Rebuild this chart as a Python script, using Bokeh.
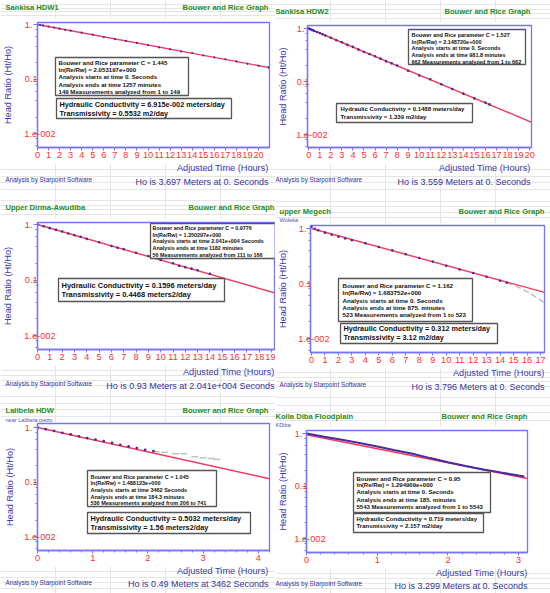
import math
from bokeh.plotting import figure
from bokeh.models import Range1d, FixedTicker, Label, BoxAnnotation
from bokeh.layouts import column, row
from bokeh.embed import file_html
from bokeh.resources import INLINE

# ------------------------------------------------------------------ data
y_ticks = [1.0, 0.1, 0.01]
y_tick_labels = ["1.", "0.1", "1.e-002"]
y_minor = [0.008, 0.006, 0.004, 0.002, 0.08, 0.06, 0.04, 0.02, 0.8, 0.6, 0.4, 0.2]

# Panel 1: Sankisa HDW1
hdw1_time = [0, 0.25, 0.5, 1, 1.5, 2, 2.5, 3, 4, 5, 6, 7, 8, 9, 10, 11, 12, 13, 14, 15, 16, 17, 18, 19, 20, 20.9]
hdw1_ratio = [1.0, 0.98, 0.96, 0.92, 0.88, 0.84, 0.80, 0.77, 0.71, 0.65, 0.59, 0.54, 0.50, 0.46, 0.42, 0.38, 0.35, 0.32, 0.30, 0.27, 0.25, 0.23, 0.21, 0.19, 0.175, 0.163]
hdw1_fit_time = [0, 20.96]
hdw1_fit_ratio = [1.0, 0.162]
hdw1_xticks = list(range(0, 21))

# Panel 2: Sankisa HDW2
hdw2_time = [0, 0.1, 0.2, 0.35, 0.5, 0.75, 1, 1.25, 1.5, 2, 2.5, 3, 3.5, 4, 4.5, 5, 5.5, 6, 6.5, 7, 7.5, 8, 9, 10, 11, 12, 13, 14, 15, 16, 16.36]
hdw2_ratio = [1.0, 0.98, 0.96, 0.93, 0.90, 0.86, 0.82, 0.78, 0.74, 0.67, 0.60, 0.55, 0.49, 0.45, 0.40, 0.36, 0.33, 0.30, 0.27, 0.24, 0.22, 0.20, 0.16, 0.13, 0.11, 0.089, 0.072, 0.059, 0.048, 0.040, 0.037]
hdw2_fit_time = [0, 20.18]
hdw2_fit_ratio = [1.0, 0.017]
hdw2_xticks = list(range(0, 21))

# Panel 3: Upper Dirma-Awudiba
dirma_time = [0, 0.5, 1, 1.5, 2, 2.5, 3, 3.5, 4, 5, 6, 6.5, 7, 8, 9, 10, 11, 11.5, 12, 12.5, 13, 14]
dirma_ratio = [1.0, 0.93, 0.86, 0.80, 0.75, 0.69, 0.64, 0.60, 0.55, 0.48, 0.41, 0.38, 0.36, 0.31, 0.27, 0.23, 0.20, 0.18, 0.17, 0.16, 0.15, 0.13]
dirma_fit_time = [0, 19.3]
dirma_fit_ratio = [1.0, 0.058]
dirma_xticks = list(range(0, 20))

# Panel 4: upper Megech (Woleka)
megech_time = [0, 0.25, 0.5, 1, 1.5, 2, 2.5, 3, 4, 5, 6, 7, 8, 9, 10, 11, 12, 13, 14, 14.5]
megech_ratio = [1.08, 0.99, 0.93, 0.84, 0.77, 0.71, 0.66, 0.61, 0.54, 0.46, 0.40, 0.34, 0.29, 0.25, 0.21, 0.18, 0.155, 0.132, 0.112, 0.103]
megech_late_time = [14.5, 15, 15.5, 16, 16.5, 17, 17.3]
megech_late_ratio = [0.103, 0.094, 0.083, 0.071, 0.060, 0.050, 0.044]
megech_fit_time = [0, 17.3]
megech_fit_ratio = [1.0, 0.069]
megech_xticks = list(range(0, 18))

# Panel 5: Lalibela HDW
lalibela_time = [0, 0.15, 0.3, 0.45, 0.6, 0.75, 0.9, 1.05, 1.2, 1.35, 1.5, 1.65, 1.8, 1.95, 2.1]
lalibela_ratio = [1.0, 0.93, 0.87, 0.80, 0.75, 0.69, 0.64, 0.60, 0.56, 0.52, 0.48, 0.45, 0.42, 0.39, 0.37]
lalibela_late_time = [2.15, 2.3, 2.5, 2.65, 2.85, 3.0, 3.15, 3.25]
lalibela_late_ratio = [0.36, 0.35, 0.33, 0.33, 0.29, 0.28, 0.27, 0.26]
lalibela_fit_time = [0, 4.2]
lalibela_fit_ratio = [1.0, 0.115]
lalibela_xticks = [0, 1, 2, 3, 4]
lalibela_xminor = [0.2, 0.4, 0.6, 0.8, 1.2, 1.4, 1.6, 1.8, 2.2, 2.4, 2.6, 2.8, 3.2, 3.4, 3.6, 3.8, 4.2]

# Panel 6: Kolla Diba Floodplain
kdiba_time = [0, 0.25, 0.5, 0.75, 1, 1.25, 1.5, 1.75, 2, 2.25, 2.5, 2.75, 3, 3.08]
kdiba_ratio = [1.0, 0.87, 0.76, 0.66, 0.565, 0.48, 0.41, 0.34, 0.284, 0.24, 0.206, 0.18, 0.158, 0.152]
kdiba_fit_time = [0, 3.125]
kdiba_fit_ratio = [0.95, 0.139]
kdiba_xticks = [0, 1, 2, 3]
kdiba_xminor = [0.2, 0.4, 0.6, 0.8, 1.2, 1.4, 1.6, 1.8, 2.2, 2.4, 2.6, 2.8]

# ------------------------------------------------------------------ style
FONT = "Liberation Sans"
FRAME_BLUE = "#7474FF"
TEXT_BLUE = "#3A3AB4"
FOOT_BLUE = "#33339A"
TICK_RED = "#FF3030"
GREEN = "#1F8C1F"
FIT_RED = "#F2385E"
DATA_PURPLE = "#4A2A9E"
GRAY = "#C2C2C2"
BOX_EDGE = "#555555"
NBSP = "\u00a0"
TICK_FS = 9.2

panels = [
    dict(ref_h=195, frame=(37, 22, 269, 147), hdr=19, xcal=(37, 11.05), ycal=(24, 54.5), ylab_x=24,
         head_x=10, title=("Sankisa HDW1", 5, 7), subtitle=None, rtitle=(268, 7),
         xlabel=(268, 167), foot=(5, 179), ho=("Ho is 3.697 Meters at 0. Seconds", 268, 181),
         xticks=hdw1_xticks, xminor=[], dot=2.2,
         data=(hdw1_time, hdw1_ratio), late=None, late_line=False, fit=(hdw1_fit_time, hdw1_fit_ratio), data_line=False,
         sbox=((55, 57, 188, 95), 58, [62, 69.2, 76.4, 83.6, 90.8], 6.1,
               ["Bouwer and Rice parameter C = 1.445", "ln(Re/Rw) = 2.053197e+000",
                "Analysis starts at time 0. Seconds", "Analysis ends at time 1257 minutes",
                "149 Measurements analyzed from 1 to 149"]),
         bbox=((56, 98, 231, 118), 59, [104, 113], 7.3,
               ["Hydraulic Conductivity = 6.915e-002 meters/day", "Transmissivity = 0.5532 m2/day"])),
    dict(ref_h=195, frame=(28, 25, 256, 147), hdr=22, xcal=(29.3, 11.24), ycal=(28, 53), ylab_x=17,
         head_x=3, title=("Sankisa HDW2", 0, 11), subtitle=None, rtitle=(255, 11),
         xlabel=(255, 167), foot=(0, 179), ho=("Ho is 3.559 Meters at 0. Seconds", 255, 181),
         xticks=hdw2_xticks, xminor=[], dot=2.6,
         data=(hdw2_time, hdw2_ratio), late=None, late_line=False, fit=(hdw2_fit_time, hdw2_fit_ratio), data_line=False,
         sbox=((129, 29, 246, 64), 132, [34.3, 41, 47.7, 54.3, 61], 5.5,
               ["Bouwer and Rice parameter C = 1.527", "ln(Re/Rw) = 2.148720e+000",
                "Analysis starts at time 0. Seconds", "Analysis ends at time 981.8 minutes",
                "662 Measurements analyzed from 1 to 662"]),
         bbox=((57, 103, 193, 122), 61, [108.3, 116], 6.0,
               ["Hydraulic Conductivity = 0.1488 meters/day", "Transmissivity = 1.339 m2/day"])),
    dict(ref_h=195, frame=(37, 27, 274, 154), hdr=24, xcal=(37, 12.32), ycal=(29, 55.5), ylab_x=24,
         head_x=10.5, title=("Upper Dirma-Awudiba", 5, 12), subtitle=None, rtitle=(274, 12),
         xlabel=(274, 176), foot=(5, 188), ho=("Ho is 0.93 Meters at 2.041e+004 Seconds", 274, 190),
         xticks=dirma_xticks, xminor=[], dot=2.6,
         data=(dirma_time, dirma_ratio), late=None, late_line=False, fit=(dirma_fit_time, dirma_fit_ratio), data_line=False,
         sbox=((150, 28, 276, 63), 152, [32.3, 39, 45.7, 52.3, 59], 5.4,
               ["Bouwer and Rice parameter C = 0.9776", "ln(Re/Rw) = 1.350297e+000",
                "Analysis starts at time 2.041e+004 Seconds", "Analysis ends at time 1182 minutes",
                "56 Measurements analyzed from 111 to 166"]),
         bbox=((58, 83, 224, 106), 61, [90, 99.3], 7.5,
               ["Hydraulic Conductivity = 0.1596 meters/day", "Transmissivity = 0.4468 meters2/day"])),
    dict(ref_h=195, frame=(35, 30, 269, 157), hdr=28, xcal=(36, 13.47), ycal=(33, 55), ylab_x=23,
         head_x=10, title=("upper Megech", 4, 16), subtitle=("Woleka", 4, 24), rtitle=(269, 16),
         xlabel=(269, 177), foot=(4, 189), ho=("Ho is 3.796 Meters at 0. Seconds", 269, 191),
         xticks=megech_xticks, xminor=[], dot=2.6,
         data=(megech_time, megech_ratio), late=(megech_late_time, megech_late_ratio), late_line=True,
         fit=(megech_fit_time, megech_fit_ratio), data_line=False,
         sbox=((63, 83, 197, 126), 67, [90, 97.3, 104.7, 112.3, 119.3], 6.2,
               ["Bouwer and Rice parameter C = 1.162", "ln(Re/Rw) = 1.683752e+000",
                "Analysis starts at time 0. Seconds", "Analysis ends at time 875. minutes",
                "523 Measurements analyzed from 1 to 523"]),
         bbox=((65, 128, 222, 148), 68, [133.3, 142.3], 7.3,
               ["Hydraulic Conductivity = 0.312 meters/day", "Transmissivity = 3.12 m2/day"])),
    dict(ref_h=203, frame=(37, 33, 269, 160), hdr=32, xcal=(37, 55.2), ycal=(37, 54.5), ylab_x=24,
         head_x=12, title=("Lalibela HDW", 5, 20), subtitle=("near Lalibela piezo", 5, 29), rtitle=(268, 20),
         xlabel=(268, 180), foot=(5, 192), ho=("Ho is 0.49 Meters at 3462 Seconds", 268, 193),
         xticks=lalibela_xticks, xminor=lalibela_xminor, dot=2.8,
         data=(lalibela_time, lalibela_ratio), late=(lalibela_late_time, lalibela_late_ratio), late_line=False,
         fit=(lalibela_fit_time, lalibela_fit_ratio), data_line=False,
         sbox=((87, 80, 216, 116), 90, [86, 92.7, 99.3, 106, 112.7], 5.5,
               ["Bouwer and Rice parameter C = 1.045", "ln(Re/Rw) = 1.488123e+000",
                "Analysis starts at time 3462 Seconds", "Analysis ends at time 184.3 minutes",
                "536 Measurements analyzed from 206 to 741"]),
         bbox=((87, 122, 250, 143), 90, [128.3, 136.7], 7.3,
               ["Hydraulic Conductivity = 0.5032 meters/day", "Transmissivity = 1.56 meters2/day"])),
    dict(ref_h=203, frame=(27, 40, 252, 162), hdr=37, xcal=(27, 72), ycal=(43, 52.5), ylab_x=15,
         head_x=2, title=("Kolla Diba Floodplain", 0, 26), subtitle=("KDiba", 0, 34), rtitle=(252, 26),
         xlabel=(252, 182), foot=(0, 193), ho=("Ho is 3.299 Meters at 0. Seconds", 252, 195),
         xticks=kdiba_xticks, xminor=kdiba_xminor, dot=2.6,
         data=(kdiba_time, kdiba_ratio), late=None, late_line=False, fit=(kdiba_fit_time, kdiba_fit_ratio), data_line=True,
         sbox=((74, 82, 211, 122), 77, [88.3, 94.9, 101.7, 109, 116.2], 6.0,
               ["Bouwer and Rice parameter C = 0.95", "ln(Re/Rw) = 1.294909e+000",
                "Analysis starts at time 0. Seconds", "Analysis ends at time 185. minutes",
                "5543 Measurements analyzed from 1 to 5543"]),
         bbox=((74, 123, 204, 142), 77, [128.3, 135.7], 6.0,
               ["Hydraulic Conductivity = 0.719 meters/day", "Transmissivity = 2.157 m2/day"])),
]

CELL_W = 275
# em widths (Liberation Sans) used to pad the y tick labels so they start at one x
EM = {"1": 0.556, "0": 0.556, "2": 0.556, ".": 0.278, "e": 0.556, "-": 0.333}


def em_width(s):
    return sum(EM[c] for c in s)


def text_fig(w, h):
    f = figure(width=w, height=h, x_range=Range1d(0, 1), y_range=Range1d(0, 1),
               output_backend="svg", toolbar_location=None, min_border=0,
               x_axis_location=None, y_axis_location=None, frame_align=False)
    f.outline_line_color = None
    f.background_fill_color = "white"
    f.border_fill_color = "white"
    return f


def build(cfg):
    cw, ch = CELL_W, cfg["ref_h"]
    L, T, R, B = cfg["frame"]
    header_h = cfg["hdr"]
    footer_top = B + 16
    plot_h = footer_top - header_h
    footer_h = ch - footer_top
    mbl = L
    mbr = cw - R
    mbt = max(T - header_h, 0)
    mbb = footer_top - B

    def fs(v):
        return "%.2fpx" % v

    def add_label(fig, text, x, y, size, color, align="left", bold=False):
        fig.add_layout(Label(x=x, y=y, x_units="screen", y_units="screen", text=text,
                             text_font=FONT, text_font_size=fs(size), text_color=color,
                             text_font_style="bold" if bold else "normal",
                             text_align=align, text_baseline="middle"))

    # ---------------- header
    hf = text_fig(cw, header_h)
    t, tx, ty = cfg["title"]
    add_label(hf, t, tx, header_h - ty, 7.6, GREEN, bold=True)
    rx, ry = cfg["rtitle"]
    add_label(hf, "Bouwer and Rice Graph", rx, header_h - ry, 7.6, GREEN, align="right", bold=True)
    if cfg["subtitle"] is not None:
        st, stx, sty = cfg["subtitle"]
        add_label(hf, st, stx, header_h - sty, 5.6, "#5050B8")

    # ---------------- plot
    x0, ppu = cfg["xcal"]
    one, dec = cfg["ycal"]
    xr = Range1d((L - x0) / ppu, (R - x0) / ppu)
    yr = Range1d(10 ** (-(B - one) / dec), 10 ** ((one - T) / dec))
    p = figure(width=cw, height=plot_h, y_axis_type="log", x_range=xr, y_range=yr,
               output_backend="svg", toolbar_location=None, frame_align=False,
               min_border_left=mbl, min_border_right=mbr, min_border_top=mbt, min_border_bottom=mbb)
    fb = plot_h - mbb

    def sx(x):
        return x - mbl

    def sy(y):
        return fb - (y - header_h)

    p.background_fill_color = "white"
    p.border_fill_color = "white"
    p.outline_line_color = FRAME_BLUE
    p.outline_line_width = 1.3
    p.xgrid.visible = False
    p.ygrid.visible = False
    for ax in (p.xaxis[0], p.yaxis[0]):
        ax.axis_line_color = FRAME_BLUE
        ax.axis_line_width = 1.3
        ax.major_tick_line_color = FRAME_BLUE
        ax.minor_tick_line_color = FRAME_BLUE
        ax.major_tick_in = 0
        ax.minor_tick_in = 0
    p.xaxis.major_tick_out = 3
    p.xaxis.minor_tick_out = 2
    p.xaxis.ticker = FixedTicker(ticks=cfg["xticks"], minor_ticks=cfg["xminor"])
    p.xaxis.major_label_text_color = TICK_RED
    p.xaxis.major_label_text_font = FONT
    p.xaxis.major_label_text_font_size = fs(TICK_FS)
    p.xaxis.major_label_standoff = 1

    # y axis: labels padded so they all start at the same x, shifted into the frame like the original
    p.yaxis.major_tick_out = 4
    p.yaxis.minor_tick_out = 2
    p.yaxis.ticker = FixedTicker(ticks=y_ticks, minor_ticks=y_minor)
    widest = max(em_width(s) for s in y_tick_labels)
    overrides = {}
    for v, s in zip(y_ticks, y_tick_labels):
        n = int(round((widest - em_width(s)) / 0.278))
        overrides[v] = s + NBSP * n
    p.yaxis.major_label_overrides = overrides
    p.yaxis.major_label_text_color = TICK_RED
    p.yaxis.major_label_text_font = FONT
    p.yaxis.major_label_text_font_size = fs(TICK_FS)
    label_w = widest * TICK_FS
    right_edge = (cfg["ylab_x"] - L) + label_w   # relative to axis, positive = inside the frame
    stand = -int(round(4 + right_edge))
    p.yaxis.major_label_standoff = stand
    p.yaxis.axis_label = "Head Ratio (Ht/Ho)"
    p.yaxis.axis_label_text_font = FONT
    p.yaxis.axis_label_text_font_style = "normal"
    p.yaxis.axis_label_text_font_size = fs(9.2)
    p.yaxis.axis_label_text_color = TEXT_BLUE
    tick_label_ext = stand + label_w
    dist = (L - cfg["head_x"])          # axis to label centre
    als = dist - 4 - tick_label_ext - 9.2 * 0.6
    als = max(0, min(int(round(als)), int(mbl - 4 - tick_label_ext - 9.2 * 1.2)))
    p.yaxis.axis_label_standoff = als

    # marks
    ft, fr = cfg["fit"]
    dt, dr = cfg["data"]
    if cfg["data_line"]:
        p.line(ft, fr, color=FIT_RED, line_width=1.6)
        p.line(dt, dr, color=DATA_PURPLE, line_width=2)
    else:
        if cfg["late"] is not None:
            lt, lr = cfg["late"]
            if cfg["late_line"]:
                p.line(lt, lr, color=GRAY, line_width=1.6, line_dash="6 3")
            else:
                p.scatter(lt, lr, marker="dash", size=7, color=GRAY, line_width=1.5)
        p.line(ft, fr, color=FIT_RED, line_width=1.4)
        p.scatter(dt, dr, size=cfg["dot"], color=DATA_PURPLE, line_color=None)

    # text boxes
    for key in ("sbox", "bbox"):
        (x1, y1, x2, y2), tx, ys, size, lines = cfg[key]
        p.add_layout(BoxAnnotation(left=sx(x1), right=sx(x2), top=sy(y1), bottom=sy(y2),
                                   left_units="screen", right_units="screen",
                                   top_units="screen", bottom_units="screen",
                                   fill_color="white", fill_alpha=1.0,
                                   line_color=BOX_EDGE, line_width=1.3, line_alpha=1.0))
        for yy, line in zip(ys, lines):
            add_label(p, line, sx(tx), sy(yy), size, "#111111", bold=True)

    # ---------------- footer
    ff = text_fig(cw, footer_h)

    def fy(y):
        return footer_h - (y - footer_top)

    xlx, xly = cfg["xlabel"]
    add_label(ff, "Adjusted Time (Hours)", xlx, fy(xly), 9.2, TEXT_BLUE, align="right")
    fx, fyy = cfg["foot"]
    add_label(ff, "Analysis by Starpoint Software", fx, fy(fyy), 6.4, FOOT_BLUE)
    ht, hox, hoy = cfg["ho"]
    add_label(ff, ht, hox, fy(hoy), 9.0, FOOT_BLUE, align="right")

    return column(hf, p, ff, spacing=0)


cells = [build(c) for c in panels]
layout = column(row(cells[0], cells[1], spacing=0),
                row(cells[2], cells[3], spacing=0),
                row(cells[4], cells[5], spacing=0), spacing=0)

open("out.html", "w").write(file_html(layout, INLINE))
